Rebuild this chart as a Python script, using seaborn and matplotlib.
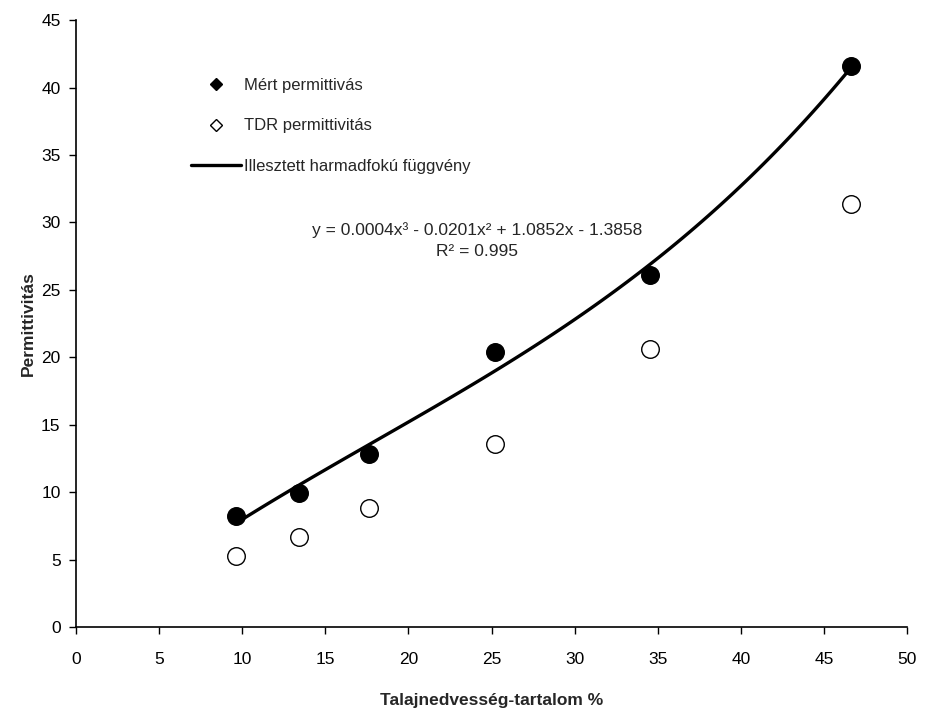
import matplotlib
matplotlib.use('Agg')
import matplotlib.pyplot as plt
import seaborn as sns
import pandas as pd
from matplotlib.lines import Line2D

# values
moisture = [9.6, 13.4, 17.6, 25.2, 34.5, 46.6]
measured = [8.2, 9.9, 12.8, 20.4, 26.1, 41.6]
tdr = [5.3, 6.7, 8.8, 13.6, 20.6, 31.4]

eq_text = 'y = 0.0004x³ - 0.0201x² + 1.0852x - 1.3858'
r2_text = 'R² = 0.995'
x_ticks = list(range(0, 51, 5))
y_ticks = list(range(0, 46, 5))

df = pd.DataFrame({'x': moisture, 'measured': measured, 'tdr': tdr})

sns.set_style('white')
plt.rcParams['font.family'] = ['Liberation Sans', 'DejaVu Sans']

fig = plt.figure(figsize=(9.25, 7.17), dpi=100)
ax = fig.add_axes([0.082, 0.1255, 0.899, 0.8465])

# fitted cubic through the measured points
sns.regplot(data=df, x='x', y='measured', order=3, ci=None, ax=ax,
            scatter=False, line_kws={'color': 'black', 'lw': 2.4})
sns.scatterplot(data=df, x='x', y='measured', ax=ax, s=160, color='black',
                edgecolor='black', zorder=3)
sns.scatterplot(data=df, x='x', y='tdr', ax=ax, s=160, color='white',
                edgecolor='black', linewidth=1.0, zorder=3)

ax.set_xlim(0, 50)
ax.set_ylim(0, 45)
ax.set_xticks(x_ticks)
ax.set_yticks(y_ticks)
ax.tick_params(axis='both', direction='out', length=5, width=1, labelsize=12.5,
               colors='black', bottom=True, left=True)
ax.tick_params(axis='x', pad=13)
ax.tick_params(axis='y', pad=6)
for s in ['top', 'right']:
    ax.spines[s].set_visible(False)
for s in ['left', 'bottom']:
    ax.spines[s].set_color('black')
    ax.spines[s].set_linewidth(1.2)

ax.set_xlabel('Talajnedvesség-tartalom %', fontsize=12.5, fontweight='bold', labelpad=19)
ax.set_ylabel('Permittivitás', fontsize=12.5, fontweight='bold', labelpad=4)

ax.text(0.482, 0.637, eq_text + '\n' + r2_text, transform=ax.transAxes,
        ha='center', va='center', fontsize=12.5, linespacing=1.45)

handles = [
    Line2D([], [], marker='D', color='black', ls='none', markersize=6),
    Line2D([], [], marker='D', markerfacecolor='white', markeredgecolor='black',
           ls='none', markersize=6),
    Line2D([], [], color='black', lw=2.4),
]
labels = ['Mért permittivás', 'TDR permittivitás', 'Illesztett harmadfokú függvény']
ax.legend(handles, labels, loc='upper left', bbox_to_anchor=(0.12, 0.93),
          frameon=False, fontsize=12, labelspacing=1.55, handlelength=3.0,
          handletextpad=0.2)

fig.savefig('out.png', dpi=100)
